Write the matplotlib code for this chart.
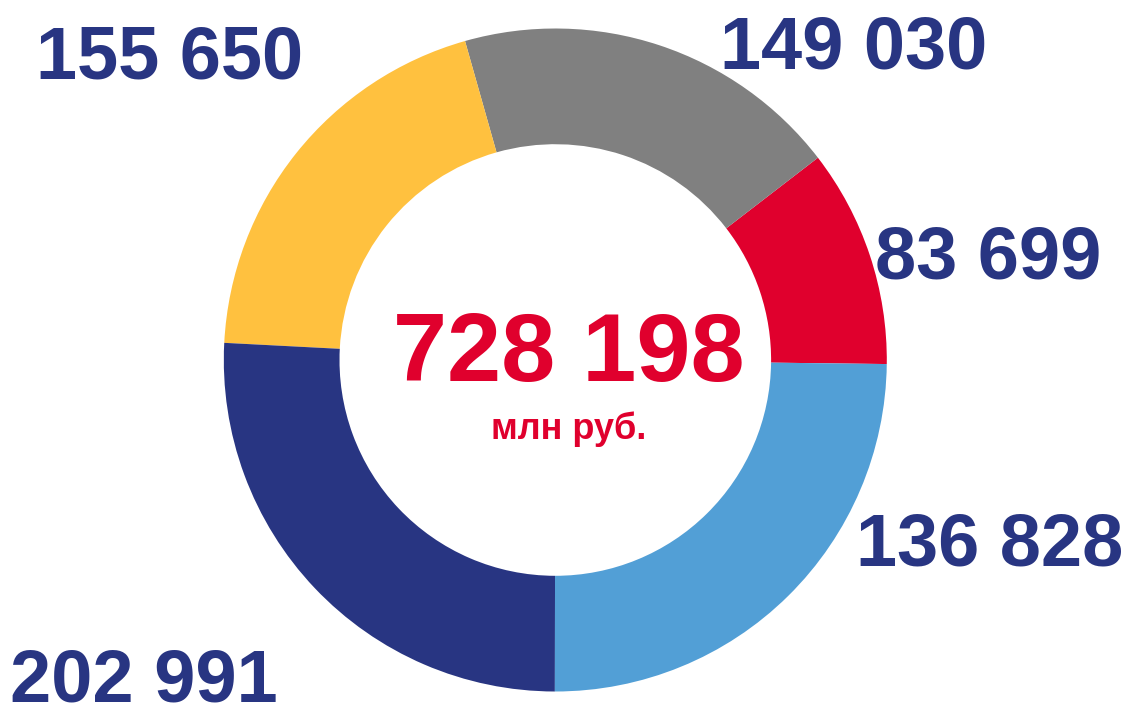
import matplotlib.pyplot as plt

# segment order: counter-clockwise, starting just below 3 o'clock
names = ["red", "gray", "yellow", "dark blue", "light blue"]
label_values = [83699, 149030, 155650, 202991, 136828]
# arc sizes as drawn in the reference (the light-blue arc is drawn larger than its label)
arc_values = [83699, 149030, 155650, 202991, 195300]
colors = ["#E0002D", "#808080", "#FFC13F", "#283582", "#529FD6"]
unit_text = "млн руб."

navy = "#283582"
red = "#E0002D"


def fmt(v):
    return f"{v:,}".replace(",", " ")


W, H = 1135, 707
fig = plt.figure(figsize=(W / 100, H / 100), dpi=100)
ax = fig.add_axes([0, 0, 1, 1])

cx, cy = 555.3, H - 360.0
R, r = 331.5, 215.8
ax.pie(arc_values, colors=colors, startangle=-0.7, counterclock=True,
       center=(cx, cy), radius=R,
       wedgeprops=dict(width=R - r, linewidth=0, antialiased=True))

ax.set_xlim(0, W)
ax.set_ylim(0, H)
ax.set_aspect("equal")
ax.axis("off")

font = "Liberation Sans"
# label anchor points (ink centre x, baseline y in pixels from top)
label_pos = [(988.5, 278.3), (853.5, 68.3), (170.0, 78.3), (144.0, 701.7), (990.0, 566.0)]
for v, (x, y) in zip(label_values, label_pos):
    ax.text(x, H - y, fmt(v), ha="center", va="baseline", color=navy,
            fontsize=53.3, fontweight="bold", family=font)

ax.text(569.0, H - 380.7, fmt(sum(label_values)), ha="center", va="baseline",
        color=red, fontsize=70, fontweight="bold", family=font)
ax.text(569.0, H - 439.3, unit_text, ha="center", va="baseline",
        color=red, fontsize=26, fontweight="bold", family=font)

fig.savefig("out.png", dpi=100)
